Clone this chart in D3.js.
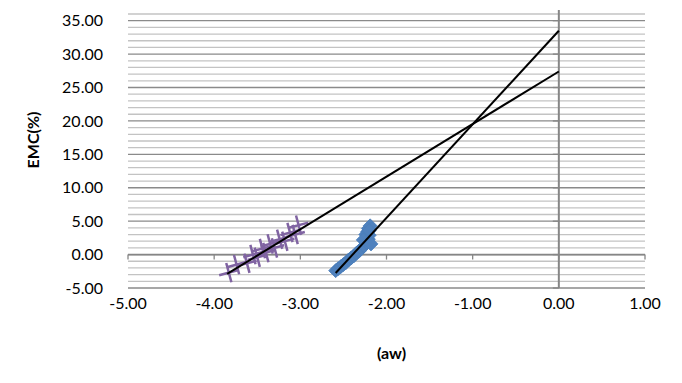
<!DOCTYPE html>
<html>
<head>
<meta charset="utf-8">
<script src="https://cdn.jsdelivr.net/npm/d3@7"></script>
<style>
  body { margin: 0; background: #fff; }
  svg { display: block; font-family: Lato, "Open Sans", sans-serif; }
</style>
</head>
<body>
<div id="chart"></div>
<script>
// tick values
const xTicks = [-5, -4, -3, -2, -1, 0, 1];
const yTicks = [-5, 0, 5, 10, 15, 20, 25, 30, 35];

// blue series (diamonds)
const blueAw  = [-2.59, -2.56, -2.53, -2.50, -2.47, -2.44, -2.41, -2.38, -2.35, -2.32, -2.29, -2.26, -2.23, -2.21, -2.20, -2.22, -2.21, -2.19, -2.24, -2.27, -2.18, -2.20];
const blueEmc = [-2.4, -2.1, -1.8, -1.5, -1.2, -0.8, -0.5, -0.2, 0.2, 0.5, 0.9, 1.3, 1.8, 2.3, 2.9, 3.4, 3.9, 4.3, 3.0, 2.2, 1.6, 3.6];

// purple series (crosses)
const purpleAw  = [-3.83, -3.74, -3.62, -3.55, -3.50, -3.44, -3.40, -3.35, -3.30, -3.24, -3.18, -3.12, -3.06, -3.02];
const purpleEmc = [-2.7, -1.5, -1.3, 0.0, -0.4, 0.9, 0.3, 1.6, 1.0, 2.3, 2.0, 3.3, 3.0, 4.4];

// linear trendlines: start x, slope, intercept (forecast to aw = 0)
const trendStart     = [-2.59, -3.85];
const trendSlope     = [14.0, 7.87];
const trendIntercept = [33.5, 27.4];

const width = 682, height = 383;
const margin = { left: 128, right: 37, top: 10, bottom: 95 };

const svg = d3.select("#chart").append("svg")
    .attr("width", width)
    .attr("height", height);

const x = d3.scaleLinear().domain([-5, 1]).range([margin.left, width - margin.right]);
const y = d3.scaleLinear().domain([-5, 36.6]).range([height - margin.bottom, margin.top]);

// minor gridlines every 1, major every 5
const minor = d3.range(-5, 37, 1).filter(v => v % 5 !== 0);
svg.append("g").selectAll("line").data(minor).join("line")
    .attr("x1", x(-5)).attr("x2", x(1))
    .attr("y1", d => y(d)).attr("y2", d => y(d))
    .attr("stroke", "#c3c3c3").attr("stroke-width", 1.3);
svg.append("g").selectAll("line").data(yTicks).join("line")
    .attr("x1", x(-5)).attr("x2", x(1))
    .attr("y1", d => y(d)).attr("y2", d => y(d))
    .attr("stroke", "#8a8a8a").attr("stroke-width", 1.3);

// axes crossing at 0
const axisColor = "#868686";
svg.append("line")
    .attr("x1", x(-5)).attr("x2", x(1))
    .attr("y1", y(0)).attr("y2", y(0))
    .attr("stroke", axisColor).attr("stroke-width", 1.6);
svg.append("g").selectAll("line").data(xTicks).join("line")
    .attr("x1", d => x(d)).attr("x2", d => x(d))
    .attr("y1", y(0)).attr("y2", y(0) + 5)
    .attr("stroke", axisColor).attr("stroke-width", 1.3);

svg.append("line")
    .attr("x1", x(0)).attr("x2", x(0))
    .attr("y1", margin.top).attr("y2", y(-5))
    .attr("stroke", axisColor).attr("stroke-width", 2);
svg.append("g").selectAll("line").data(yTicks).join("line")
    .attr("x1", x(0) - 6).attr("x2", x(0))
    .attr("y1", d => y(d)).attr("y2", d => y(d))
    .attr("stroke", axisColor).attr("stroke-width", 1.3);

// tick labels (plain hyphen for negatives, like the original)
const fmt = d => d3.format(".2f")(d).replace("\u2212", "-");
svg.append("g").selectAll("text").data(yTicks).join("text")
    .attr("x", 103).attr("y", d => y(d))
    .attr("dy", "0.35em")
    .attr("text-anchor", "end")
    .attr("font-size", 16)
    .attr("fill", "#000")
    .text(fmt);
svg.append("g").selectAll("text").data(xTicks).join("text")
    .attr("x", d => x(d)).attr("y", y(-5) + 15)
    .attr("dy", "0.35em")
    .attr("text-anchor", "middle")
    .attr("font-size", 16)
    .attr("fill", "#000")
    .text(fmt);

// axis titles
svg.append("text")
    .attr("x", (x(-5) + x(1)) / 2 + 5).attr("y", 353)
    .attr("dy", "0.35em")
    .attr("text-anchor", "middle")
    .attr("font-size", 16).attr("font-weight", "bold")
    .text("(aw)");
svg.append("text")
    .attr("transform", "translate(33,140) rotate(-90)")
    .attr("dy", "0.35em")
    .attr("text-anchor", "middle")
    .attr("font-size", 16).attr("font-weight", "bold")
    .text("EMC(%)");

// markers
const plot = svg.append("g");
const purplePts = d3.zip(purpleAw, purpleEmc);
plot.selectAll("path.cross").data(purplePts).join("path")
    .attr("class", "cross")
    .attr("transform", d => `translate(${x(d[0])},${y(d[1])}) rotate(-15)`)
    .attr("d", "M-10,0H10M0,-10V10")
    .attr("stroke", "#8064a2").attr("stroke-width", 2.5)
    .attr("fill", "none");

const bluePts = d3.zip(blueAw, blueEmc);
plot.selectAll("path.diamond").data(bluePts).join("path")
    .attr("class", "diamond")
    .attr("transform", d => `translate(${x(d[0])},${y(d[1])})`)
    .attr("d", "M0,-7L7,0L0,7L-7,0Z")
    .attr("fill", "#4f81bd")
    .attr("stroke", "#4a7ebb").attr("stroke-width", 0.8);

// trendlines
const trends = d3.range(trendStart.length).map(i => [
    [trendStart[i], trendSlope[i] * trendStart[i] + trendIntercept[i]],
    [0, trendIntercept[i]]
]);
plot.selectAll("line.trend").data(trends).join("line")
    .attr("class", "trend")
    .attr("x1", d => x(d[0][0])).attr("y1", d => y(d[0][1]))
    .attr("x2", d => x(d[1][0])).attr("y2", d => y(d[1][1]))
    .attr("stroke", "#000").attr("stroke-width", 2);
</script>
</body>
</html>
